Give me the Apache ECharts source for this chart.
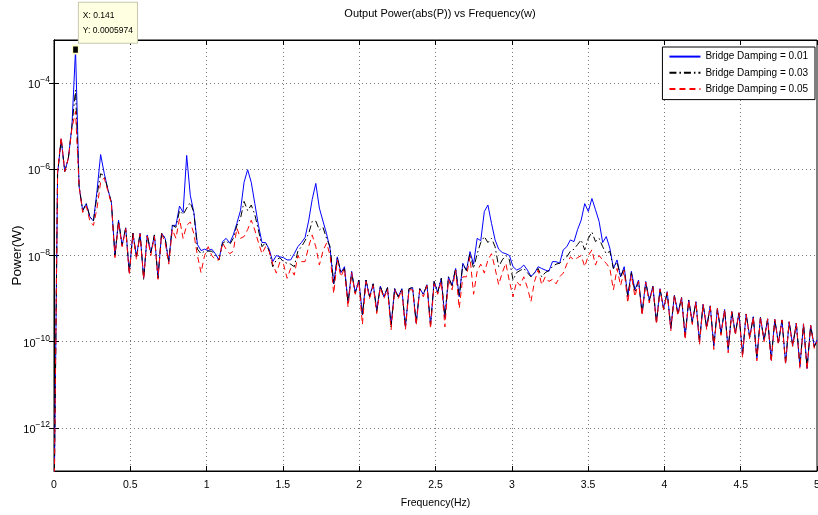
<!DOCTYPE html>
<html><head><meta charset="utf-8">
<script src="https://cdn.jsdelivr.net/npm/echarts@6/dist/echarts.min.js"></script>
<style>html,body{margin:0;padding:0;background:#fff}#c{width:818px;height:515px}</style>
</head><body><div id="c"></div>
<script>
// Frequency grid (Hz)
const freq = [0,0.0235,0.047,0.0705,0.094,0.1175,0.141,0.1645,0.188,0.2115,
0.235,0.2585,0.282,0.3055,0.329,0.3525,0.376,0.3995,0.423,0.4465,
0.47,0.4935,0.517,0.5405,0.564,0.5875,0.611,0.6345,0.658,0.6815,
0.705,0.7285,0.752,0.7755,0.799,0.8225,0.846,0.8695,0.893,0.9165,
0.94,0.9635,0.987,1.0105,1.034,1.0575,1.081,1.1045,1.128,1.1515,
1.175,1.1985,1.222,1.2455,1.269,1.2925,1.316,1.3395,1.363,1.3865,
1.41,1.4335,1.457,1.4805,1.504,1.5275,1.551,1.5745,1.598,1.6215,
1.645,1.6685,1.692,1.7155,1.739,1.7625,1.786,1.8095,1.833,1.8565,
1.88,1.9035,1.927,1.9505,1.974,1.9975,2.021,2.0445,2.068,2.0915,
2.115,2.1385,2.162,2.1855,2.209,2.2325,2.256,2.2795,2.303,2.3265,
2.35,2.3735,2.397,2.4205,2.444,2.4675,2.491,2.5145,2.538,2.5615,
2.585,2.6085,2.632,2.6555,2.679,2.7025,2.726,2.7495,2.773,2.7965,
2.82,2.8435,2.867,2.8905,2.914,2.9375,2.961,2.9845,3.008,3.0315,
3.055,3.0785,3.102,3.1255,3.149,3.1725,3.196,3.2195,3.243,3.2665,
3.29,3.3135,3.337,3.3605,3.384,3.4075,3.431,3.4545,3.478,3.5015,
3.525,3.5485,3.572,3.5955,3.619,3.6425,3.666,3.6895,3.713,3.7365,
3.76,3.7835,3.807,3.8305,3.854,3.8775,3.901,3.9245,3.948,3.9715,
3.995,4.0185,4.042,4.0655,4.089,4.1125,4.136,4.1595,4.183,4.2065,
4.23,4.2535,4.277,4.3005,4.324,4.3475,4.371,4.3945,4.418,4.4415,
4.465,4.4885,4.512,4.5355,4.559,4.5825,4.606,4.6295,4.653,4.6765,
4.7,4.7235,4.747,4.7705,4.794,4.8175,4.841,4.8645,4.888,4.9115,
4.935,4.9585,4.982,5];

// Power (W), Bridge Damping = 0.01
const damping001 = [1e-14,7.9e-7,5.0e-6,8.9e-7,1.8e-6,1.0e-5,5.974e-4,4.0e-7,1.1e-7,1.6e-7,
7.9e-8,6.3e-8,3.2e-7,2.2e-6,8.1e-7,3.5e-7,1.7e-7,1.0e-8,6.6e-8,1.7e-8,
4.4e-8,4.0e-9,3.3e-8,9.3e-9,3.3e-8,3.0e-9,3.0e-8,1.15e-8,3.0e-8,3.0e-9,
3.3e-8,2.5e-8,7.1e-9,5.0e-8,5.0e-8,1.4e-7,1.0e-7,2.1e-6,2.5e-7,1.0e-7,
1.8e-8,1.3e-8,1.4e-8,1.3e-8,1.4e-8,1.1e-8,7.9e-9,2.1e-8,2.5e-8,1.95e-8,
3.0e-8,5.6e-8,1.1e-7,5.0e-7,9.8e-7,5.0e-7,1.6e-7,5.0e-8,2.0e-8,2.0e-8,
1.4e-8,7.2e-9,1.0e-8,9.3e-9,8.9e-9,7.9e-9,7.9e-9,1.1e-8,1.6e-8,2.0e-8,
2.6e-8,6.3e-8,2.0e-7,4.7e-7,1.26e-7,6.3e-8,3.2e-8,1.4e-8,2.2e-9,9.3e-9,
4.0e-9,5.5e-9,7.9e-10,4.3e-9,1.35e-9,2.7e-9,4.2e-10,2.7e-9,1.1e-9,2.2e-9,
5.5e-10,1.95e-9,1.1e-9,1.8e-9,2.45e-10,1.7e-9,1.1e-9,1.7e-9,2.2e-10,1.7e-9,
1.8e-9,2.7e-10,1.7e-9,1.26e-9,2.1e-9,2.45e-10,2.5e-9,1.4e-9,2.95e-9,3.5e-10,
3.2e-9,2.0e-9,5.0e-9,1.1e-9,6.6e-9,4.5e-9,1.23e-8,6.3e-9,2.5e-8,2.2e-8,
1.05e-7,1.48e-7,5.6e-8,2.3e-8,1.4e-8,1.17e-8,1.1e-8,1.0e-8,5.5e-9,4.6e-9,
5.0e-9,6.0e-9,4.6e-9,3.3e-9,3.9e-9,5.5e-9,5.0e-9,4.6e-9,4.3e-9,7.2e-9,
7.2e-9,6.6e-9,1.35e-8,1.6e-8,2.3e-8,2.1e-8,4.0e-8,6.6e-8,1.6e-7,1.05e-7,
2.1e-7,1.15e-7,6.2e-8,2.0e-8,2.75e-8,1.48e-8,5.0e-9,7.9e-9,3.2e-9,5.5e-9,
1.1e-9,4.3e-9,1.6e-9,2.7e-9,4.6e-10,2.5e-9,9.3e-10,1.95e-9,2.9e-10,1.7e-9,
5.9e-10,1.45e-9,2.0e-10,1.2e-9,4.6e-10,1.07e-9,1.3e-10,9.3e-10,2.9e-10,8.5e-10,
1.0e-10,7.4e-10,2.2e-10,6.8e-10,7.8e-11,5.9e-10,1.6e-10,5.6e-10,6.5e-11,5.0e-10,
1.6e-10,4.7e-10,4.9e-11,4.4e-10,1.3e-10,3.8e-10,4.1e-11,3.7e-10,1.1e-10,3.4e-10,
3.8e-11,3.3e-10,9.5e-11,3.2e-10,3.2e-11,2.9e-10,8.3e-11,2.7e-10,2.6e-11,2.6e-10,
2.4e-11,2.4e-10,7.9e-11,1.1e-10];

// Power (W), Bridge Damping = 0.03
const damping003 = [1e-14,7.9e-7,5.0e-6,8.9e-7,1.8e-6,1.0e-5,6.9e-5,4.0e-7,1.1e-7,1.6e-7,
7.9e-8,6.3e-8,2.5e-7,7.9e-7,7.1e-7,3.5e-7,1.7e-7,1.0e-8,6.3e-8,1.7e-8,
4.4e-8,4.0e-9,3.3e-8,9.3e-9,3.2e-8,2.8e-9,3.0e-8,1.15e-8,3.0e-8,3.0e-9,
3.3e-8,2.5e-8,7.1e-9,5.0e-8,4.5e-8,1.1e-7,8.9e-8,1.26e-7,1.7e-7,1.0e-7,
1.4e-8,1.1e-8,1.26e-8,1.26e-8,1.26e-8,1.0e-8,7.9e-9,1.9e-8,2.2e-8,1.8e-8,
2.5e-8,5.0e-8,7.2e-8,1.8e-7,1.1e-7,1.48e-7,8.9e-8,3.9e-8,1.6e-8,2.0e-8,
1.26e-8,5.5e-9,7.9e-9,8.9e-9,7.1e-9,6.6e-9,6.3e-9,5.5e-9,1.26e-8,1.6e-8,
2.2e-8,3.2e-8,6.2e-8,6.3e-8,3.9e-8,4.5e-8,2.5e-8,1.6e-8,2.2e-9,8.9e-9,
4.0e-9,5.0e-9,7.9e-10,4.0e-9,1.35e-9,2.7e-9,4.0e-10,2.7e-9,1.1e-9,2.2e-9,
5.0e-10,1.95e-9,1.1e-9,1.8e-9,2.2e-10,1.7e-9,1.1e-9,1.7e-9,2.2e-10,1.7e-9,
1.8e-9,2.7e-10,1.7e-9,1.26e-9,2.1e-9,2.45e-10,2.5e-9,1.4e-9,2.95e-9,3.5e-10,
3.2e-9,2.0e-9,5.0e-9,1.1e-9,6.3e-9,4.5e-9,1.1e-8,5.0e-9,1.1e-8,2.0e-8,
2.75e-8,2.0e-8,2.5e-8,1.6e-8,5.5e-9,7.9e-9,1.0e-8,7.9e-9,2.7e-9,4.0e-9,
4.5e-9,5.0e-9,4.0e-9,3.2e-9,4.0e-9,5.0e-9,3.2e-9,4.0e-9,4.5e-9,5.5e-9,
6.3e-9,6.6e-9,7.9e-9,9.3e-9,1.26e-8,1.4e-8,1.8e-8,2.3e-8,1.35e-8,2.5e-8,
3.5e-8,2.1e-8,2.5e-8,1.6e-8,1.1e-8,1.26e-8,5.0e-9,7.1e-9,3.2e-9,5.0e-9,
1.1e-9,4.0e-9,1.4e-9,2.5e-9,4.5e-10,2.4e-9,8.9e-10,1.9e-9,2.8e-10,1.66e-9,
5.6e-10,1.4e-9,2.1e-10,1.15e-9,4.3e-10,1.05e-9,1.4e-10,9.1e-10,2.7e-10,8.3e-10,
1.05e-10,7.2e-10,2.1e-10,6.6e-10,8.0e-11,5.8e-10,1.5e-10,5.5e-10,6.8e-11,4.9e-10,
1.5e-10,4.6e-10,5.1e-11,4.3e-10,1.25e-10,3.7e-10,4.3e-11,3.6e-10,1.05e-10,3.3e-10,
4.0e-11,3.25e-10,9.0e-11,3.1e-10,3.4e-11,2.85e-10,8.0e-11,2.65e-10,2.8e-11,2.55e-10,
2.5e-11,2.35e-10,7.5e-11,1.05e-10];

// Power (W), Bridge Damping = 0.05
const damping005 = [1e-14,8.9e-7,5.6e-6,8.9e-7,1.8e-6,8.9e-6,2.2e-5,4.0e-7,1.0e-7,1.4e-7,
6.3e-8,5.0e-8,1.26e-7,5.0e-7,6.3e-7,3.2e-7,1.6e-7,8.9e-9,6.0e-8,1.6e-8,
4.2e-8,3.5e-9,3.2e-8,7.9e-9,3.2e-8,2.8e-9,2.8e-8,1.0e-8,2.8e-8,2.8e-9,
3.2e-8,2.0e-8,6.3e-9,4.0e-8,2.5e-8,7.1e-8,2.5e-8,5.0e-8,6.0e-8,3.2e-8,
1.0e-8,4.0e-9,1.0e-8,1.6e-8,1.0e-8,7.9e-9,7.9e-9,1.95e-8,1.4e-8,1.1e-8,
1.26e-8,4.3e-8,2.5e-8,2.75e-8,4.0e-8,6.6e-8,3.9e-8,2.0e-8,1.1e-8,1.6e-8,
1.26e-8,6.3e-9,3.9e-9,7.1e-9,6.3e-9,2.95e-9,5.0e-9,3.5e-9,1.0e-8,7.2e-9,
7.2e-9,1.6e-8,3.0e-8,1.6e-8,6.0e-9,1.26e-8,1.95e-8,1.0e-8,1.3e-9,7.9e-9,
3.2e-9,5.0e-9,6.3e-10,4.0e-9,1.26e-9,2.5e-9,2.5e-10,2.5e-9,1.0e-9,2.0e-9,
4.5e-10,1.8e-9,1.0e-9,1.66e-9,1.9e-10,1.6e-9,1.0e-9,1.6e-9,1.9e-10,1.6e-9,
1.6e-9,2.4e-10,1.6e-9,1.1e-9,2.0e-9,2.0e-10,2.2e-9,1.26e-9,2.5e-9,2.2e-10,
2.8e-9,1.6e-9,4.5e-9,5.9e-10,3.2e-9,3.2e-9,9.3e-9,1.26e-9,4.3e-9,6.3e-9,
3.9e-9,7.9e-9,1.1e-8,5.0e-9,2.1e-9,4.0e-9,6.6e-9,2.5e-9,1.1e-9,2.5e-9,
2.0e-9,3.2e-9,1.8e-9,8.5e-10,2.5e-9,4.6e-9,2.1e-9,3.2e-9,2.5e-9,2.8e-9,
2.2e-9,3.2e-9,3.9e-9,6.3e-9,9.3e-9,7.9e-9,8.9e-9,1.0e-8,5.5e-9,1.0e-8,
1.35e-8,6.0e-9,1.0e-8,7.9e-9,6.6e-9,5.0e-9,1.6e-9,5.0e-9,2.0e-9,4.5e-9,
7.9e-10,3.5e-9,1.1e-9,2.5e-9,4.0e-10,2.4e-9,7.9e-10,1.9e-9,2.5e-10,1.66e-9,
5.5e-10,1.4e-9,1.8e-10,1.2e-9,4.0e-10,1.05e-9,1.1e-10,9.3e-10,2.5e-10,8.5e-10,
8.5e-11,7.4e-10,1.9e-10,6.8e-10,6.6e-11,6.0e-10,1.4e-10,5.6e-10,5.5e-11,5.0e-10,
1.4e-10,4.7e-10,4.2e-11,4.4e-10,1.15e-10,3.8e-10,3.6e-11,3.7e-10,1.0e-10,3.4e-10,
3.3e-11,3.3e-10,8.5e-11,3.2e-10,2.9e-11,2.9e-10,7.5e-11,2.7e-10,2.4e-11,2.6e-10,
2.2e-11,2.4e-10,7.0e-11,1.0e-10];

const seriesNames = ['Bridge Damping = 0.01', 'Bridge Damping = 0.03', 'Bridge Damping = 0.05'];
const yTickValues = [1e-12, 1e-10, 1e-8, 1e-6, 1e-4];
const datatip = { x: 0.141, y: 0.0005974 };

const FONT = '"Liberation Sans", Arial, Helvetica, sans-serif';
const gridLine = { show: true, lineStyle: { color: '#7a7a7a', type: [1, 3], width: 1 } };
const pairs = vals => freq.map((f, i) => [f, vals[i]]);
const supLabel = v => {
  const e = Math.round(Math.log10(v));
  return '{b|10}{s|' + (e < 0 ? '\u2212' + (-e) : e) + '}';
};

const chart = echarts.init(document.getElementById('c'), null, { renderer: 'canvas' });
chart.setOption({
  animation: false,
  backgroundColor: '#fff',
  textStyle: { fontFamily: FONT },
  title: {
    text: 'Output Power(abs(P)) vs Frequency(w)',
    left: 435, top: 3, textAlign: 'center',
    textStyle: { fontSize: 11, fontWeight: 'normal', color: '#000', fontFamily: FONT }
  },
  grid: { left: 54, right: 1, top: 40, bottom: 44, outerBoundsMode: 'none', containLabel: false,
    show: true, borderColor: '#000', borderWidth: 1, backgroundColor: '#fff' },
  legend: {
    data: seriesNames, orient: 'vertical', right: 3, top: 47,
    padding: [4, 7, 5, 6], itemWidth: 31, itemHeight: 14, itemGap: 5,
    backgroundColor: '#fff', borderColor: '#000', borderWidth: 1,
    itemStyle: { opacity: 0 },
    textStyle: { fontSize: 10, color: '#000', fontFamily: FONT }
  },
  xAxis: [{
    type: 'value', min: 0, max: 5, interval: 0.5,
    name: 'Frequency(Hz)', nameLocation: 'middle', nameGap: 27,
    nameTextStyle: { fontSize: 10.5, color: '#000', fontFamily: FONT },
    axisLine: { lineStyle: { color: '#000' } },
    axisTick: { inside: true, length: 5, lineStyle: { color: '#000' } },
    axisLabel: { color: '#000', fontSize: 10.5, margin: 9, fontFamily: FONT },
    splitLine: gridLine
  }, {
    type: 'value', position: 'top', min: 0, max: 5, interval: 0.5,
    axisLine: { show: true, lineStyle: { color: '#000' } },
    axisTick: { inside: true, length: 5, lineStyle: { color: '#000' } },
    axisLabel: { show: false }, splitLine: { show: false }
  }],
  yAxis: [{
    type: 'log', logBase: 10, min: 1e-13, max: 1e-3,
    name: 'Power(W)', nameLocation: 'middle', nameGap: 30, nameMoveOverlap: false,
    nameTextStyle: { fontSize: 13.5, color: '#000', fontFamily: FONT },
    axisLine: { lineStyle: { color: '#000' } },
    axisTick: { inside: true, length: 5, customValues: yTickValues, lineStyle: { color: '#000' } },
    axisLabel: {
      customValues: yTickValues, margin: 4, formatter: supLabel,
      rich: {
        b: { fontSize: 11, color: '#000', fontFamily: FONT, lineHeight: 15, verticalAlign: 'bottom' },
        s: { fontSize: 8.5, color: '#000', fontFamily: FONT, lineHeight: 9, verticalAlign: 'top' }
      }
    },
    splitLine: gridLine
  }, {
    type: 'log', logBase: 10, min: 1e-13, max: 1e-3, position: 'right',
    axisLine: { show: true, lineStyle: { color: '#000' } },
    axisTick: { inside: true, length: 5, customValues: yTickValues, lineStyle: { color: '#000' } },
    axisLabel: { show: false }, splitLine: { show: false }
  }],
  series: [{
    name: seriesNames[0], type: 'line', data: pairs(damping001), symbol: 'none', clip: true,
    lineStyle: { color: '#0000ff', width: 1 }, itemStyle: { color: '#0000ff' }, z: 2,
    markPoint: {
      symbol: 'rect', symbolSize: [6, 8], silent: true,
      itemStyle: { color: '#000', borderColor: '#ffffc8', borderWidth: 1.5 },
      data: [{ coord: [datatip.x, datatip.y], value: datatip.y }],
      label: {
        show: true, position: [7, -42], align: 'left', verticalAlign: 'top',
        formatter: () => 'X: ' + datatip.x + '\nY: ' + datatip.y,
        fontSize: 8.5, lineHeight: 15, color: '#000', fontFamily: FONT,
        backgroundColor: '#ffffe1', borderColor: '#c8c8b0', borderWidth: 1, padding: [5, 4, 5, 4]
      }
    }
  }, {
    name: seriesNames[1], type: 'line', data: pairs(damping003), symbol: 'none', clip: true,
    lineStyle: { color: '#000000', width: 1, type: [7, 3, 1.5, 3] }, itemStyle: { color: '#000000' }, z: 3
  }, {
    name: seriesNames[2], type: 'line', data: pairs(damping005), symbol: 'none', clip: true,
    lineStyle: { color: '#ff0000', width: 1, type: [6, 4] }, itemStyle: { color: '#ff0000' }, z: 4
  }]
});
</script>
</body></html>
